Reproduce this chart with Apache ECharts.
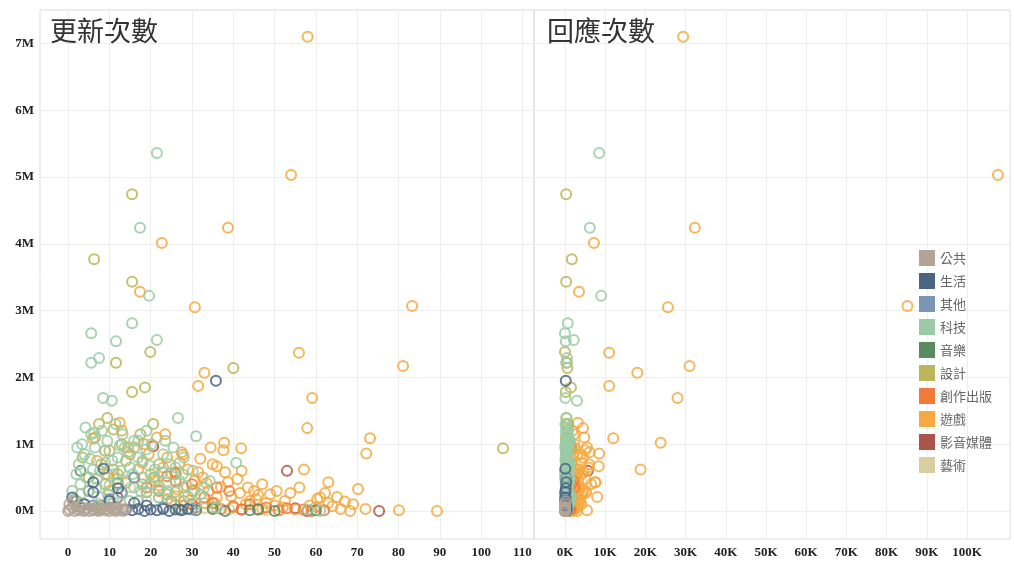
<!DOCTYPE html>
<html>
<head>
<meta charset="utf-8">
<script src="https://cdn.jsdelivr.net/npm/echarts@6/dist/echarts.min.js"></script>
<style>
html,body{margin:0;padding:0;background:#fff;}
#chart{width:1014px;height:562px;}
</style>
</head>
<body>
<div id="chart"></div>
<script>
// ---- data: each record = [updates, replies (K), amount (M)] ----
const CATEGORIES = ['公共','生活','其他','科技','音樂','設計','創作出版','遊戲','影音媒體','藝術'];
const COLORS = ['#b3a394','#4b6484','#7a96b4','#9acba6','#5a8a62','#bab659','#f27a3a','#f5a940','#ab544a','#d7cf9f'];
const PANEL_TITLES = ['更新次數','回應次數'];
const Y_TICKS = [0,1,2,3,4,5,6,7];
const UPDATE_TICKS = [0,10,20,30,40,50,60,70,80,90,100,110];
const REPLY_TICKS = [0,10,20,30,40,50,60,70,80,90,100];

const D_PUBLIC = [
 [0,0,0],[0.4,0,0.02],[1.1,0.01,0.05],[1.6,0,0],[2.2,0.02,0.03],[2.7,0,0.01],[3.1,0.01,0.06],
 [3.8,0,0],[4.3,0.03,0.02],[4.7,0,0.04],[5.2,0.01,0],[5.9,0.02,0.03],[6.3,0,0.01],[6.8,0.01,0.05],
 [7.4,0,0],[7.9,0.03,0.02],[8.3,0.01,0.04],[8.8,0,0.01],[9.4,0.02,0.03],[9.9,0,0],[10.3,0.01,0.05],
 [10.9,0,0.02],[11.4,0.02,0],[11.8,0.01,0.04],[12.3,0,0.01],[12.9,0.03,0.03],[13.3,0,0],[13.8,0.01,0.02],
 [0.3,0.1,0.1],[1.2,0.2,0.14]
];
const D_LIFE = [
 [35.8,0.2,1.95],[8.6,0.1,0.63],[6.1,0.3,0.43],[6.1,0.1,0.28],[12.1,0.2,0.34],[1,0.05,0.2],
 [14,0.1,0.02],[15.5,0.2,0.01],[17,0.1,0.03],[18.5,0.3,0],[20,0.1,0.02],[21.5,0.2,0.01],
 [23,0.4,0.03],[24.5,0.1,0],[26,0.2,0.02],[27.5,0.3,0.01],[29,0.1,0.03],[4,0.2,0.1],
 [10,0.1,0.15],[3,0.3,0.05],[16,0.2,0.12],[19,0.4,0.08]
];
const D_OTHER = [
 [10,0.3,0.18],[13,0.1,0.28],[23,0.2,0.05],[30,0.5,0.02],[16,0.3,0.5],[6,0.1,0.08]
];
const D_TECH = [
 [21.5,8.5,5.36],[17.4,6.2,4.24],[19.6,9,3.22],[15.5,0.7,2.81],[5.6,0,2.66],[11.6,0.2,2.54],
 [21.5,2.2,2.56],[5.6,0.3,2.22],[7.5,0.5,2.29],[8.5,0.1,1.69],[10.6,3,1.65],[26.6,0.3,1.39],
 [40.7,1.2,0.72],[31,0.8,1.12],[16,0.4,1.05],[17,0.9,1.05],[23.5,1.3,1.05],[3.4,0.2,1.0],
 [5.6,0.5,1.15],[6.3,0.3,1.17],
 [2,0.1,0.55],[3,0.3,0.4],[4,0.2,0.85],[5,0.6,0.3],[6,0.4,0.62],[7,0.1,0.48],[8,0.8,0.2],
 [9,0.3,0.72],[10,0.5,0.38],[11,0.9,0.55],[12,0.2,0.8],[13,0.6,0.25],[14,1.1,0.45],[15,0.4,0.65],
 [16,0.7,0.35],[17,0.2,0.15],[18,1,0.5],[19,0.5,0.28],[20,0.3,0.4],[21,0.8,0.62],[22,1.3,0.2],
 [24,0.4,0.3],[25,0.9,0.12],[27,0.6,0.45],[29,1.5,0.22],[31,0.3,0.1],[33,0.7,0.35],[36,0.4,0.05],
 [3.5,0.2,0.12],[1.5,0.05,0.18],[6.5,0.6,0.95],[9.5,0.4,1.05],[12.5,0.7,0.98],[14.5,0.3,0.88],
 [11,1.2,0.12],[7.5,0.9,0.08],[18,0.1,0.75],[23,0.5,0.85],[26,1,0.65],[61,0.6,0],[58,0.3,0.02],
 [1,0.1,0.3],[2.6,0.3,0.7],[4.4,0.1,0.5],[5.3,0.2,0.78],[6.9,0.5,0.35],[7.7,0.2,0.6],[8.9,0.4,0.9],
 [9.6,0.1,0.25],[10.7,0.6,0.75],[11.9,0.3,0.4],[12.6,0.1,0.6],[13.7,0.5,0.95],[14.9,0.2,0.15],
 [15.6,0.8,0.55],[16.9,0.3,0.8],[17.6,0.6,0.3],[18.9,0.2,0.92],[19.7,0.7,0.68],[20.6,0.1,0.5],
 [21.9,0.4,0.32],[22.7,0.9,0.58],[23.8,0.2,0.42],[24.6,0.6,0.7],[25.9,0.3,0.28],[27.7,0.5,0.55],
 [28.6,0.2,0.38],[30.2,0.8,0.6],[32.1,0.4,0.25],[34.3,0.2,0.45],[4.2,0.3,1.25],[8.2,0.7,1.2],
 [13.2,0.4,1.15],[20.2,0.2,1.0],[11.5,0.1,1.3],[2.2,0.05,0.95],[19,0.3,1.2],[25.5,0.5,0.95],
 [28,0.2,0.8],[7.2,0.1,0.02],[9,0.2,0.07]
];
const D_MUSIC = [
 [2,0.1,0.15],[5,0.3,0.3],[8,0.2,0.08],[27,0.4,0.02],[31,0.2,0.01],[35,0.6,0.03],[38,0.1,0],
 [44,0.3,0.01],[46,0.5,0.02],[50,0.2,0],[60,0.4,0.01],[12,0.5,0.42],[3,0.1,0.6]
];
const D_DESIGN = [
 [15.5,0.3,4.74],[6.3,1.7,3.77],[15.5,0.3,3.43],[19.9,0,2.38],[11.6,0.5,2.22],[40,0.6,2.14],
 [15.5,0.2,1.78],[18.6,1.5,1.85],[9.5,0.4,1.39],[20.6,0.8,1.3],[105.3,1.5,0.94],[7.5,0.4,1.3],
 [8,0.7,0.7],[12,0.3,0.55],[18,0.9,0.4],[24,0.5,0.25],[28,1.2,0.15],[35,0.4,0.05],[5,0.2,0.5],
 [10,0.6,0.9],[13,0.2,1.0],[22,1.1,0.7],[16,0.6,0.95],
 [3.5,0.3,0.8],[6.5,0.2,1.1],[9,0.5,0.4],[14,0.3,0.75],[17.5,0.6,1.15],[21,0.4,0.5],[26,0.2,0.55],
 [30.5,0.5,0.3],[11,0.8,1.22]
];
const D_PUBLISH = [
 [22,0.8,0.3],[25,1.2,0.15],[28,0.5,0.08],[31,0.9,0.05],[33,1.5,0.2],[35,0.7,0.12],[37,1.1,0.03],
 [40,0.6,0.07],[42,1.4,0.02],[44,0.8,0.1],[46,0.4,0.02],[48,1,0.05],[51,0.7,0.01],[53,1.3,0.04],
 [57,0.5,0.02],[26,2,0.45],[30,1.6,0.4],[19,1,0.35],[24,0.6,0.52],[36,2.4,0.35],[39,0.5,0.3],
 [59,0.8,0],[62,0.3,0.01]
];
const D_GAME = [
 [58,29.4,7.1],[54,107.7,5.03],[38.7,32.3,4.24],[22.7,7.2,4.01],[17.4,3.5,3.28],[30.7,25.6,3.05],
 [83.3,85.2,3.07],[55.9,11,2.37],[33,18,2.07],[81.1,31,2.17],[31.5,11,1.87],[59.1,28,1.69],
 [57.9,4.5,1.24],[73.1,12,1.09],[37.8,23.8,1.02],[37.6,5,0.91],[72.2,8.5,0.86],[41.9,2.5,0.94],
 [57.1,18.8,0.62],[36,8.4,0.67],[63,7.6,0.43],[70.2,3.6,0.33],[65.1,8,0.21],[69,2,0.1],
 [62.2,5.2,0.27],[60.3,3,0.18],[63,1.5,0.12],[47,6.5,0.4],[41.6,3.2,0.27],[46,4,0.24],
 [48.9,2.6,0.25],[53.8,4.4,0.27],[80.1,5.5,0.01],[89.3,3,0],[68.3,1.8,0],
 [12.5,3.2,1.32],[21.5,4.8,1.1],[27.5,6.1,0.88],[27.8,3.9,0.84],[32.6,2.4,0.5],[30.7,3.3,0.46],
 [38.7,7.5,0.43],[23,5.8,0.65],[25,2.8,0.57],[18,1.6,0.72],[15,2.1,0.85],[20,4.2,0.55],
 [28,1.9,0.35],[34,2.2,0.3],[36,1.4,0.2],[44,2.1,0.15],[50,1.2,0.08],[52,3.1,0.05],[26,1,0.22],
 [22,2.5,0.38],[30,5.2,0.3],[16,1.3,0.5],[14,2.7,0.42],[40,0.9,0.05],[43,4.1,0.1],[47,1.7,0.03],
 [55,2.4,0.02],[33,1.1,0.12],[24,3.7,0.18],[19,2,0.28],[11,1.5,0.62],[9,1.2,0.9],[7,0.8,0.75],
 [13,1.8,1.2],[18.5,2.3,1.0],[6,0.6,1.08],[10,4.5,0.3],[35,6,0.7],[29,3.5,0.62],[45,2.9,0.3],
 [60,2.2,0.06],[66,1.5,0.03],[72,2.3,0.03],[38,1.8,0.58],
 [17,3.4,0.62],[21,2.1,0.45],[24,4.4,0.8],[26.5,1.6,0.32],[29.5,2.7,0.16],[31.5,4.6,0.58],
 [33.5,1.3,0.42],[35.5,3.3,0.12],[37,2.6,0.36],[39.5,1.9,0.22],[41,5.1,0.48],[43.5,2.2,0.35],
 [45.5,3.6,0.18],[48,1.4,0.12],[50.5,2.8,0.3],[52.5,1.7,0.15],[56,3.5,0.35],[58.5,2.1,0.08],
 [61,1.3,0.2],[64,2.6,0.07],[67,3.8,0.14],[12,2.4,0.48],[14.5,1.1,0.95],[19.5,3.1,0.85],
 [23.5,2.2,1.15],[27,4.2,0.72],[32,1.5,0.78],[9.5,2.8,0.55],[34.5,5.5,0.95],[42,3,0.6]
];
const D_MEDIA = [
 [53,5.7,0.6],[20.6,1.5,0.97],[75.3,0.8,0],[57.9,0.4,0],[55,1,0.04],[42,0.3,0.02],[30,0.5,0.1],
 [12,0.4,0.2],[26,2.2,0.57]
];
const D_ART = [
 [3,0.1,0.25],[7,0.3,0.12],[11,0.2,0.05],[19,0.5,0.15],[26,0.2,0.08],[33,0.4,0.04],[39,0.1,0.02],
 [15,0.6,0.35],[9,0.2,0.55],[22,0.3,0.2],[48,0.2,0.01]
];
const DATASETS = [D_PUBLIC,D_LIFE,D_OTHER,D_TECH,D_MUSIC,D_DESIGN,D_PUBLISH,D_GAME,D_MEDIA,D_ART];

// ---- chart ----
const chart = echarts.init(document.getElementById('chart'));
const serifLabel = {fontFamily:'Liberation Serif', fontWeight:'bold', fontSize:13, color:'#222'};
const splitLine = {show:true, lineStyle:{color:'#eeeeee', width:1}};

const series = [];
// draw later categories first so 公共 / 生活 end up on top of the dense band
for (let i = CATEGORIES.length - 1; i >= 0; i--) {
  const style = {color:'rgba(255,255,255,0)', borderColor:COLORS[i], borderWidth:2, opacity:0.85};
  series.push({
    name:CATEGORIES[i], type:'scatter', xAxisIndex:0, yAxisIndex:0, symbol:'circle', symbolSize:10,
    itemStyle:style, data:DATASETS[i].map(d => [d[0], d[2]])
  });
  series.push({
    name:CATEGORIES[i], type:'scatter', xAxisIndex:1, yAxisIndex:1, symbol:'circle', symbolSize:10,
    itemStyle:style, data:DATASETS[i].map(d => [d[1], d[2]])
  });
}

const option = {
  animation:false,
  backgroundColor:'#ffffff',
  title:[
    {text:PANEL_TITLES[0], left:45, top:12, textStyle:{fontSize:27, fontWeight:'normal', color:'#333', fontFamily:'Noto Sans CJK TC'}},
    {text:PANEL_TITLES[1], left:542, top:12, textStyle:{fontSize:27, fontWeight:'normal', color:'#333', fontFamily:'Noto Sans CJK TC'}}
  ],
  legend:{
    orient:'vertical', left:914, top:245, itemWidth:16, itemHeight:16, itemGap:7,
    textStyle:{fontSize:13, color:'#666', fontFamily:'Noto Sans CJK TC'},
    data:CATEGORIES.map((n,i) => ({name:n, icon:'rect', itemStyle:{color:COLORS[i], borderWidth:0, opacity:1}}))
  },
  grid:[
    {left:40, right:480, top:10, bottom:23, show:true, borderColor:'#dddddd', borderWidth:1},
    {left:534, right:4, top:10, bottom:23, show:true, borderColor:'#dddddd', borderWidth:1}
  ],
  xAxis:[
    {type:'value', gridIndex:0, min:-6.8, max:112.8,
     axisLine:{show:false}, axisTick:{show:false, customValues:UPDATE_TICKS},
     axisLabel:Object.assign({customValues:UPDATE_TICKS, margin:7}, serifLabel),
     splitLine:splitLine},
    {type:'value', gridIndex:1, min:-7.7, max:110.7,
     axisLine:{show:false}, axisTick:{show:false, customValues:REPLY_TICKS},
     axisLabel:Object.assign({customValues:REPLY_TICKS, margin:7, formatter:v => v + 'K'}, serifLabel),
     splitLine:splitLine}
  ],
  yAxis:[
    {type:'value', gridIndex:0, min:-0.42, max:7.5,
     axisLine:{show:false}, axisTick:{show:false, customValues:Y_TICKS},
     axisLabel:Object.assign({customValues:Y_TICKS, margin:6, formatter:v => v + 'M'}, serifLabel),
     splitLine:splitLine},
    {type:'value', gridIndex:1, min:-0.42, max:7.5,
     axisLine:{show:false}, axisTick:{show:false, customValues:Y_TICKS},
     axisLabel:{show:false, customValues:Y_TICKS},
     splitLine:splitLine}
  ],
  series:series
};
chart.setOption(option);
</script>
</body>
</html>
